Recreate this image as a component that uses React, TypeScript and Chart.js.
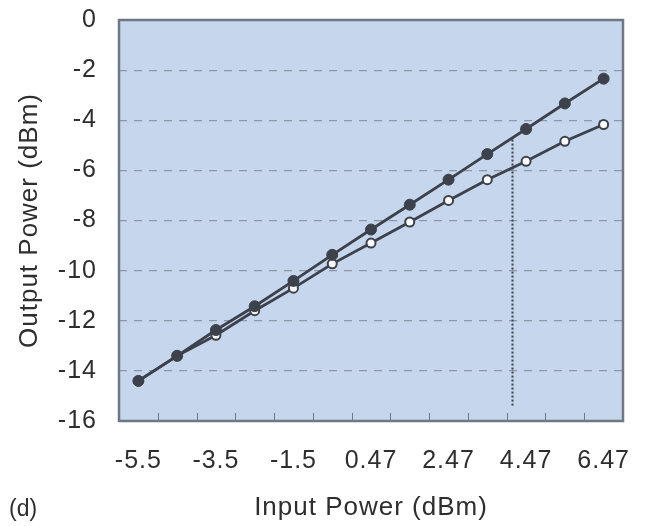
import React, { useEffect, useRef } from "react";
import { Chart, registerables } from "chart.js";

Chart.register(...registerables);

const categories = ["-5.5", "-4.5", "-3.5", "-2.5", "-1.5", "-0.5", "0.47", "1.47", "2.47", "3.47", "4.47", "5.47", "6.47"];
const filledSeries = [-14.4, -13.4, -12.37, -11.42, -10.41, -9.37, -8.36, -7.37, -6.37, -5.35, -4.35, -3.33, -2.34];
const hollowSeries = [-14.4, -13.4, -12.58, -11.6, -10.7, -9.73, -8.9, -8.06, -7.2, -6.37, -5.64, -4.84, -4.17];
// vertical dotted marker, x given as fractional category position
const markerX = [9.65, 9.65];
const markerY = [-4.77, -15.45];
const yTicks = [0, -2, -4, -6, -8, -10, -12, -14, -16];

const DARK = "#3c414b";
const TEXT = "#2e2e2e";
const FONT = "'Liberation Sans', Arial, sans-serif";

const spacingPlugin = {
  id: "spacing",
  beforeUpdate(chart: any) {
    chart.ctx.letterSpacing = "1px";
  },
  beforeDraw(chart: any) {
    chart.ctx.letterSpacing = "1px";
  },
};

const framePlugin = {
  id: "frame",
  beforeDraw(chart: any) {
    const { ctx, chartArea: a } = chart;
    ctx.save();
    ctx.fillStyle = "#c6d6ec";
    ctx.fillRect(a.left, a.top, a.right - a.left, a.bottom - a.top);
    ctx.restore();
  },
  beforeDatasetsDraw(chart: any) {
    const { ctx, chartArea: a } = chart;
    const xs = chart.scales.x;
    ctx.save();
    ctx.strokeStyle = "#6e7784";
    ctx.lineWidth = 1;
    for (let i = 1; i < categories.length; i++) {
      const px = Math.round((xs.getPixelForValue(i - 1) + xs.getPixelForValue(i)) / 2) + 0.5;
      ctx.beginPath();
      ctx.moveTo(px, a.bottom);
      ctx.lineTo(px, a.bottom - 8);
      ctx.stroke();
    }
    ctx.strokeStyle = "#6e7784";
    ctx.lineWidth = 2.5;
    ctx.strokeRect(a.left, a.top, a.right - a.left, a.bottom - a.top);
    ctx.restore();
  },
};

export default function App() {
  const ref = useRef<HTMLCanvasElement | null>(null);
  useEffect(() => {
    if (!ref.current) return;
    const chart = new Chart(ref.current, {
      type: "line",
      data: {
        labels: categories,
        datasets: [
          {
            data: filledSeries,
            borderColor: DARK,
            backgroundColor: DARK,
            borderWidth: 2.8,
            pointRadius: 5.5,
            pointBackgroundColor: DARK,
            pointBorderColor: DARK,
            pointBorderWidth: 1,
            xAxisID: "x",
          },
          {
            data: hollowSeries,
            borderColor: DARK,
            backgroundColor: "#ffffff",
            borderWidth: 2.8,
            pointRadius: 4.5,
            pointBackgroundColor: "#ffffff",
            pointBorderColor: DARK,
            pointBorderWidth: 2,
            xAxisID: "x",
          },
          {
            data: markerX.map((x, i) => ({ x, y: markerY[i] })),
            borderColor: DARK,
            borderWidth: 2,
            borderDash: [2, 2],
            pointRadius: 0,
            xAxisID: "x2",
          } as any,
        ],
      },
      options: {
        animation: false,
        responsive: false,
        maintainAspectRatio: false,
        layout: { padding: { top: 20, right: 22, left: 0, bottom: 0 } },
        plugins: { legend: { display: false }, tooltip: { enabled: false } },
        scales: {
          x: {
            type: "category",
            offset: true,
            grid: { display: false, offset: true, drawTicks: false },
            border: { display: false },
            afterFit: (s: any) => {
              s.height = 105;
              s.paddingLeft = 0;
              s.paddingRight = 0;
            },
            ticks: {
              autoSkip: false,
              maxRotation: 0,
              padding: 25,
              color: TEXT,
              font: { family: FONT, size: 25 },
              callback: (v: any, i: number) => (i % 2 === 0 ? categories[i] : ""),
            },
            title: {
              display: true,
              text: "Input Power (dBm)",
              color: TEXT,
              font: { family: FONT, size: 26 },
              padding: { top: 0, bottom: 3 },
            },
          },
          x2: {
            type: "linear",
            display: false,
            min: -0.5,
            max: categories.length - 0.5,
          },
          y: {
            type: "linear",
            min: -16,
            max: 0,
            afterBuildTicks: (s: any) => {
              s.ticks = yTicks.map((v) => ({ value: v }));
            },
            afterFit: (s: any) => {
              s.width = 119;
              s.paddingTop = 0;
              s.paddingBottom = 0;
            },
            grid: {
              drawTicks: false,
              color: "#8c98a8",
              lineWidth: 1.2,
            },
            border: { display: false, dash: [8, 7] },
            ticks: {
              padding: 22,
              color: TEXT,
              font: { family: FONT, size: 25 },
            },
            title: {
              display: true,
              text: "Output Power (dBm)",
              color: TEXT,
              font: { family: FONT, size: 26 },
              padding: { top: 14, bottom: 0 },
            },
          },
        },
      },
      plugins: [spacingPlugin, framePlugin],
    } as any);
    return () => chart.destroy();
  }, []);
  return (
    <div style={{ position: "fixed", left: 0, top: 0, width: 645, height: 526, background: "#fff" }}>
      <canvas ref={ref} width={645} height={526} style={{ display: "block" }} />
      <div
        style={{
          position: "absolute",
          left: 9,
          top: 495,
          fontFamily: FONT,
          fontSize: 23,
          color: TEXT,
          lineHeight: "26px",
        }}
      >
        (d)
      </div>
    </div>
  );
}
